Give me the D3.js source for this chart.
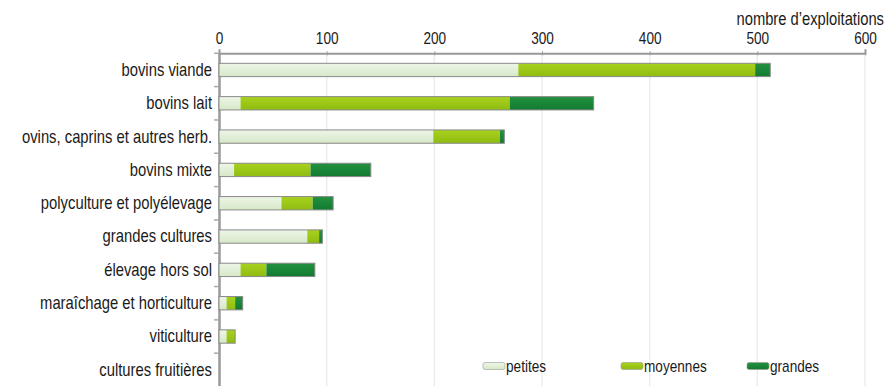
<!DOCTYPE html>
<html><head><meta charset="utf-8">
<script src="https://cdn.jsdelivr.net/npm/d3@7"></script>
<style>
body{margin:0;background:#fff;}
text{font-family:"Liberation Sans",Arial,sans-serif;}
</style></head><body>
<svg id="c" width="890" height="386"></svg>
<script>
const categories = ["bovins viande","bovins lait","ovins, caprins et autres herb.","bovins mixte","polyculture et polyélevage","grandes cultures","élevage hors sol","maraîchage et horticulture","viticulture","cultures fruitières"];
const petites  = [278, 20, 199, 14, 58, 82, 20, 7, 7, 0];
const moyennes = [220, 250, 62, 71, 29, 11, 24, 8, 8, 0];
const grandes  = [14, 78, 4, 56, 19, 3, 45, 7, 0, 0];
const seriesNames = ["petites","moyennes","grandes"];
const xTicks = [0,100,200,300,400,500,600];
const axisTitle = "nombre d’exploitations";

const svg = d3.select("#c");
const x = d3.scaleLinear().domain([0,600]).range([219,865]);
const y = d3.scaleBand().domain(categories).range([53.3,386.5]).paddingInner(0.6).paddingOuter(0.3);
const yb = d3.scaleBand().domain(categories).range([53.3,386.5]);

function condense(sel, f){
  sel.each(function(){
    const w = this.getComputedTextLength();
    d3.select(this).attr("textLength", w*f).attr("lengthAdjust","spacingAndGlyphs");
  });
}

const defs = svg.append("defs");
[["petites","#eef6e8","#d6e8c8"],["moyennes","#a9d21e","#8fbc12"],["grandes","#22923f","#137a30"]].forEach(([k,a,b])=>{
  const g = defs.append("linearGradient").attr("id","g_"+k).attr("x1",0).attr("x2",0).attr("y1",0).attr("y2",1);
  g.append("stop").attr("offset","0%").attr("stop-color",a);
  g.append("stop").attr("offset","100%").attr("stop-color",b);
});

// gridlines
svg.append("g").selectAll("line").data(xTicks.slice(1)).join("line")
  .attr("x1",d=>x(d)).attr("x2",d=>x(d)).attr("y1",53).attr("y2",386)
  .attr("stroke","#ececec").attr("stroke-width",1.5);

// top axis
const xa = svg.append("g").attr("transform","translate(0,53.3)")
  .call(d3.axisTop(x).tickValues(xTicks).tickSize(4).tickFormat(d3.format("d")));
xa.select(".domain").attr("stroke","#999").attr("stroke-width",2);
xa.selectAll(".tick line").attr("stroke","#999").attr("transform","translate(0,2)");
xa.selectAll(".tick text").attr("font-size",17).attr("fill","#1a1a1a").attr("y",-9.5).attr("dy","0")
  .style("font-family",'"Liberation Sans",Arial,sans-serif');
condense(xa.selectAll(".tick text"),0.8);

// axis title (condensed by a horizontal scale)
const tf = 0.82;
svg.append("g").attr("transform",`translate(884,25) scale(${tf},1)`)
  .append("text").attr("x",0).attr("y",0).attr("text-anchor","end")
  .attr("font-size",18).attr("fill","#1a1a1a").text(axisTitle);

// left axis
const ya = svg.append("g").attr("transform","translate(219,0)")
  .call(d3.axisLeft(yb).tickSize(0).tickPadding(7));
ya.select(".domain").attr("stroke","#999").attr("stroke-width",2.5);
ya.selectAll(".tick text").attr("font-size",18.5).attr("fill","#1a1a1a")
  .style("font-family",'"Liberation Sans",Arial,sans-serif');
condense(ya.selectAll(".tick text"),0.8);
// small ticks between bands
svg.append("g").selectAll("line").data(categories).join("line")
  .attr("x1",214).attr("x2",219).attr("y1",d=>yb(d)).attr("y2",d=>yb(d))
  .attr("stroke","#aaa").attr("stroke-width",1.5);

// stacked bars
const rows = categories.map((c,i)=>({cat:c,petites:petites[i],moyennes:moyennes[i],grandes:grandes[i]}));
const stack = d3.stack().keys(seriesNames)(rows);
svg.append("g").selectAll("g").data(stack).join("g")
  .attr("fill",d=>"url(#g_"+d.key+")")
  .selectAll("rect").data(d=>d.filter(p=>p[1]-p[0]>0)).join("rect")
  .attr("x",d=>x(d[0])).attr("width",d=>x(d[1])-x(d[0]))
  .attr("y",d=>y(d.data.cat)).attr("height",y.bandwidth());
svg.append("g").selectAll("rect").data(rows.filter(r=>r.petites+r.moyennes+r.grandes>0)).join("rect")
  .attr("x",d=>x(0)).attr("width",d=>x(d.petites+d.moyennes+d.grandes)-x(0))
  .attr("y",d=>y(d.cat)).attr("height",y.bandwidth())
  .attr("fill","none").attr("stroke","#8a8a8a").attr("stroke-width",1);

// legend
const legX = [483, 621, 747];
const lg = svg.append("g").selectAll("g").data(seriesNames).join("g")
  .attr("transform",(d,i)=>`translate(${legX[i]},366)`);
lg.append("rect").attr("x",0).attr("y",-3.5).attr("width",22).attr("height",7).attr("rx",2)
  .attr("fill",d=>"url(#g_"+d+")").attr("stroke","#999").attr("stroke-width",0.6);
const lt = lg.append("text").attr("x",23).attr("y",0).attr("dy","0.35em").attr("font-size",17).attr("fill","#1a1a1a").text(d=>d);
condense(lt,0.8);
</script></body></html>
